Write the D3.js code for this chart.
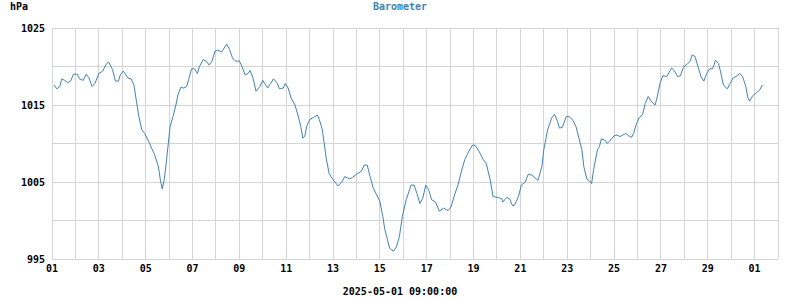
<!DOCTYPE html>
<html>
<head>
<meta charset="utf-8">
<script src="https://cdn.jsdelivr.net/npm/d3@7"></script>
<style>
  body { margin: 0; background: #fff; }
  text { font-family: "DejaVu Sans Mono", monospace; font-weight: bold; font-size: 10px; }
</style>
</head>
<body>
<div id="chart"></div>
<script>
// barometer readings, hours after 2025-05-01 00:00
const hours = [2, 5, 8, 10, 13, 16, 19, 22, 26, 28, 32, 35, 38, 41, 44, 48, 52, 55, 58, 62,
  65, 68, 70, 73, 78, 81, 84, 86, 89, 92, 95, 99, 102, 105, 109, 111, 113, 115, 117, 119,
  121, 124, 127, 129, 132, 135, 138, 140, 143, 146, 149, 151, 155, 158, 161, 164, 167, 170, 174, 179,
  182, 185, 188, 192, 194, 198, 201, 203, 206, 209, 213, 216, 218, 221, 224, 227, 231, 233, 237, 239,
  242, 245, 249, 252, 255, 257, 259, 261, 264, 268, 272, 274, 277, 279, 281, 284, 288, 293, 297, 300,
  305, 308, 312, 317, 320, 323, 326, 329, 332, 336, 339, 341, 343, 346, 350, 353, 356, 359, 363, 368,
  371, 374, 377, 380, 383, 386, 389, 393, 397, 401, 406, 409, 413, 416, 420, 423, 426, 429, 431, 434,
  438, 442, 445, 449, 452, 457, 461, 462, 466, 469, 472, 474, 478, 481, 485, 488, 492, 498, 502, 504,
  506, 508, 512, 515, 518, 520, 523, 527, 530, 534, 537, 540, 543, 545, 548, 551, 553, 555, 559, 561,
  563, 567, 569, 572, 576, 579, 582, 585, 588, 591, 594, 596, 599, 602, 605, 608, 611, 614, 618, 620,
  623, 626, 630, 635, 638, 641, 644, 647, 651, 654, 656, 659, 662, 665, 668, 671, 674, 677, 680, 683,
  685, 688, 692, 695, 698, 701, 705, 708, 711, 713, 715, 718, 722, 725, 728];

const pressure = [1017.6, 1017.1, 1017.4, 1018.4, 1018.2, 1017.9, 1018.1, 1019.0, 1019.0, 1018.4,
  1018.2, 1019.0, 1018.5, 1017.4, 1017.8, 1019.1, 1019.4, 1020.2, 1020.6, 1019.6,
  1018.1, 1018.1, 1018.9, 1019.4, 1018.5, 1018.4, 1017.6, 1015.9, 1013.5, 1011.8,
  1011.3, 1010.3, 1009.4, 1008.6, 1007.0, 1005.3, 1004.1, 1005.3, 1007.4, 1009.8,
  1012.2, 1013.5, 1015.0, 1016.3, 1017.3, 1017.2, 1017.4, 1018.3, 1019.7, 1019.7,
  1019.1, 1020.0, 1020.9, 1020.7, 1020.2, 1020.7, 1022.0, 1022.1, 1021.9, 1022.9,
  1022.2, 1021.1, 1020.7, 1020.7, 1020.2, 1018.9, 1019.1, 1019.5, 1018.5, 1016.8,
  1017.4, 1018.2, 1017.8, 1017.2, 1017.8, 1018.4, 1017.8, 1017.1, 1017.2, 1017.8,
  1017.2, 1015.9, 1015.0, 1013.7, 1012.2, 1010.7, 1010.9, 1012.2, 1013.1, 1013.4,
  1013.7, 1013.1, 1011.8, 1010.0, 1008.1, 1006.1, 1005.3, 1004.5, 1005.0, 1005.7,
  1005.4, 1005.6, 1006.0, 1006.4, 1007.2, 1007.2, 1005.7, 1004.3, 1003.5, 1002.5,
  1000.5, 998.9, 997.9, 996.4, 996.0, 996.6, 997.9, 1000.5, 1002.7, 1004.6,
  1004.6, 1003.5, 1002.2, 1002.9, 1004.6, 1004.0, 1002.7, 1002.4, 1001.2, 1001.6,
  1001.3, 1001.8, 1003.5, 1004.6, 1006.6, 1007.9, 1008.7, 1009.4, 1009.8, 1009.7,
  1008.9, 1007.9, 1007.4, 1005.3, 1003.1, 1003.0, 1002.8, 1002.4, 1003.0, 1002.8,
  1001.9, 1002.0, 1003.1, 1004.6, 1005.0, 1006.0, 1005.9, 1005.2, 1007.0, 1009.2,
  1010.5, 1011.8, 1013.3, 1013.8, 1012.9, 1012.0, 1012.1, 1013.5, 1013.5, 1013.0,
  1012.2, 1010.7, 1009.2, 1007.0, 1005.4, 1005.1, 1004.8, 1006.6, 1009.2, 1009.6,
  1010.6, 1010.4, 1010.0, 1010.4, 1011.0, 1011.1, 1010.9, 1011.1, 1011.3, 1011.0,
  1010.8, 1011.3, 1012.6, 1013.4, 1013.7, 1015.2, 1016.1, 1015.5, 1015.0, 1015.9,
  1017.8, 1018.8, 1018.7, 1019.8, 1019.4, 1018.7, 1018.8, 1019.9, 1020.3, 1020.7,
  1021.5, 1021.3, 1020.0, 1018.7, 1018.1, 1019.1, 1019.7, 1019.7, 1020.8, 1020.4,
  1019.4, 1017.6, 1017.1, 1017.8, 1018.5, 1018.7, 1019.1, 1018.6, 1017.4, 1016.0,
  1015.5, 1016.2, 1016.6, 1016.9, 1017.6];

// x tick labels sit on every second day line
const xTickDays = [0, 2, 4, 6, 8, 10, 12, 14, 16, 18, 20, 22, 24, 26, 28, 30];
const xTickLabels = ['01', '03', '05', '07', '09', '11', '13', '15', '17', '19', '21', '23', '25', '27', '29', '01'];
const yTicks = [995, 1005, 1015, 1025];

const width = 800, height = 300;
const margin = { top: 28, right: 22, bottom: 41, left: 52 };

const svg = d3.select('#chart').append('svg')
  .attr('width', width)
  .attr('height', height);

const x = d3.scaleLinear()
  .domain([0, 31 * 24])
  .range([margin.left, width - margin.right]);

const y = d3.scaleLinear()
  .domain([995, 1025])
  .range([height - margin.bottom, margin.top]);

// grid: one line per day, one per 5 hPa
const grid = svg.append('g')
  .attr('stroke', '#d4d4d4')
  .attr('stroke-width', 1)
  .attr('shape-rendering', 'crispEdges');

grid.selectAll('.vline')
  .data(d3.range(0, 32))
  .enter()
  .append('line')
  .attr('x1', d => x(d * 24)).attr('x2', d => x(d * 24))
  .attr('y1', y(995)).attr('y2', y(1025));

grid.selectAll('.hline')
  .data(d3.range(995, 1026, 5))
  .enter()
  .append('line')
  .attr('x1', x(0)).attr('x2', x(31 * 24))
  .attr('y1', d => y(d)).attr('y2', d => y(d));

// y labels
svg.selectAll('.ylab')
  .data(yTicks)
  .enter()
  .append('text')
  .attr('x', 45)
  .attr('y', d => y(d))
  .attr('dy', '0.35em')
  .attr('text-anchor', 'end')
  .text(d => d);

// x labels
svg.selectAll('.xlab')
  .data(xTickDays)
  .enter()
  .append('text')
  .attr('x', d => x(d * 24))
  .attr('y', 272)
  .attr('text-anchor', 'middle')
  .text((d, i) => xTickLabels[i]);

// the pressure line
const points = hours.map((h, i) => ({ h: h, p: pressure[i] }));
svg.append('path')
  .datum(points)
  .attr('fill', 'none')
  .attr('stroke', '#4282b4')
  .attr('stroke-width', 1)
  .attr('d', d3.line().x(d => x(d.h)).y(d => y(d.p)));

// labels
svg.append('text').attr('x', 10).attr('y', 9.5).text('hPa');
svg.append('text')
  .attr('x', 400).attr('y', 9.5)
  .attr('text-anchor', 'middle')
  .attr('fill', '#4282b4')
  .text('Barometer');
svg.append('text')
  .attr('x', 400).attr('y', 295)
  .attr('text-anchor', 'middle')
  .text('2025-05-01 09:00:00');
</script>
</body>
</html>
